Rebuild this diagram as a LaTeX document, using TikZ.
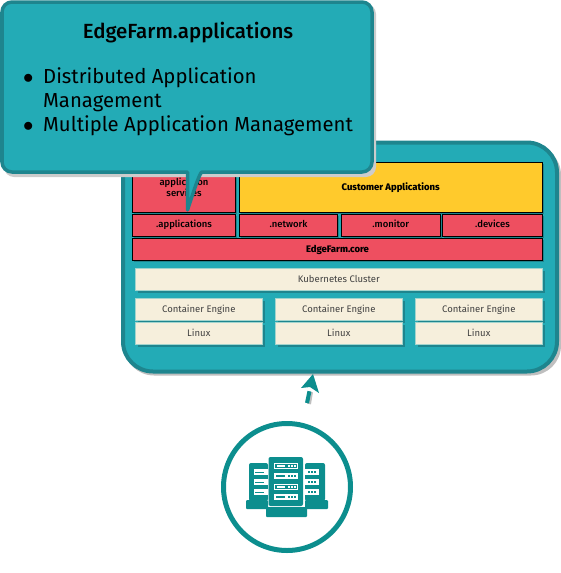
\documentclass[tikz,border=0pt]{standalone}
\usepackage{fontspec}
\setmainfont{Fira Sans}
\newfontfamily\farmmedium{Fira Sans Medium}
\usetikzlibrary{arrows.meta,shadows}
\definecolor{farmteal}{HTML}{23ABB6}
\definecolor{farmedge}{HTML}{1E858E}
\definecolor{farmred}{HTML}{EE4F60}
\definecolor{farmyellow}{HTML}{FFCA2C}
\definecolor{farmcream}{HTML}{F6EFDC}
\definecolor{farmicon}{HTML}{0C8E8E}
\tikzset{
    smalltext/.style={font=\fontsize{9.5}{11}\selectfont, text height=7pt, text depth=2pt},
    redbox/.style={draw=black, line width=1pt, fill=farmred, smalltext, font=\fontsize{9.5}{11}\selectfont\farmmedium, text=black, inner sep=0pt,
        drop shadow={shadow xshift=1.5pt, shadow yshift=-1.5pt, fill=farmedge, opacity=1}},
    yellowbox/.style={redbox, fill=farmyellow},
    creambox/.style={draw=farmcream!60!farmteal, line width=0.6pt, fill=farmcream, smalltext, text=black!75, inner sep=0pt,
        drop shadow={shadow xshift=2.2pt, shadow yshift=-2.2pt, fill=farmedge, opacity=1}},
    iconpart/.style={fill=farmicon, draw=none},
    iconbar/.style={fill=white, draw=none},
    icondots/.style={farmicon, line width=2pt, dash pattern=on 2pt off 1pt},
    whitedots/.style={white, line width=1.5pt, dash pattern=on 2pt off 1pt},
}
\begin{document}
\begin{tikzpicture}[x=1pt, y=-1pt]
    \useasboundingbox (0,0) rectangle (561,573);
    % platform
    \fill[black!25, rounded corners=30pt] (124,145) rectangle (561,375.5);
    \draw[farmedge, fill=farmteal, line width=4pt, rounded corners=30pt] (123,142.5) rectangle (557,371.5);
    \node[yellowbox, minimum width=303pt, minimum height=49.5pt] (customer) at (390.7,187.5) {\bfseries Customer Applications};
    \node[redbox, minimum width=102.5pt, minimum height=49.5pt, text height=, text depth=, align=center] (services) at (184,187.5) {application\\services};
    \node[redbox, minimum width=102.5pt, minimum height=21.7pt] (apps) at (184,225.3) {.applications};
    \node[redbox, minimum width=98.7pt, minimum height=21.7pt] (network) at (288.5,225.3) {.network};
    \node[redbox, minimum width=99.3pt, minimum height=21.7pt] (monitor) at (390.8,225.3) {.monitor};
    \node[redbox, minimum width=99.3pt, minimum height=21.7pt] (devices) at (492.5,225.3) {.devices};
    \node[redbox, minimum width=409.4pt, minimum height=21.4pt] (core) at (337.5,249.5) {\bfseries EdgeFarm.core};
    \node[creambox, minimum width=407pt, minimum height=21.7pt] (cluster) at (338.8,279.5) {Kubernetes Cluster};
    \node[creambox, minimum width=127pt, minimum height=21.7pt] (engineA) at (198.8,309.5) {Container Engine};
    \node[creambox, minimum width=127pt, minimum height=21.7pt] (engineB) at (338.8,309.5) {Container Engine};
    \node[creambox, minimum width=127pt, minimum height=21.7pt] (engineC) at (478.8,309.5) {Container Engine};
    \node[creambox, minimum width=127pt, minimum height=21.7pt] (linuxA) at (198.8,333.5) {Linux};
    \node[creambox, minimum width=127pt, minimum height=21.7pt] (linuxB) at (338.8,333.5) {Linux};
    \node[creambox, minimum width=127pt, minimum height=21.7pt] (linuxC) at (478.8,333.5) {Linux};
    % callout
    \fill[black!20, rounded corners=10pt] (4,4) rectangle (376,177);
    \draw[farmedge, fill=farmteal, line width=3.5pt, line join=round]
        [rounded corners=10pt] (187.5,172) -- (2,172) -- (2,2) -- (372,2) -- (372,172) -- (212,172)
        [sharp corners] .. controls (200,172) and (194,190) .. (187.5,210) -- cycle;
    \node[font=\fontsize{20.5}{24}\selectfont\farmmedium, text=black] (title) at (188,33) {EdgeFarm.applications};
    \node[anchor=north west, inner sep=0pt, font=\fontsize{20.3}{24}\selectfont, text=black] (points) at (23,66) {%
        \begin{tabular}{@{}p{20pt}@{}l@{}}
        $\bullet$ & Distributed Application\\
         & Management\\
        $\bullet$ & Multiple Application Management
        \end{tabular}};
    % arrow
    \coordinate (arrowstart) at (307,403);
    \coordinate (arrowend) at (313,374);
    \draw[black!25, line width=4pt] (309,404) -- (311,392);
    \draw[farmicon, line width=4pt, dash pattern=on 12pt off 30pt] (arrowstart) -- (arrowend);
    \fill[farmicon] (arrowend) -- (319,393) -- (310,387) -- (301,388) -- cycle;
    % servers
    \draw[farmicon, line width=5pt] (287,487) coordinate (hub) circle (63.5);
    \fill[iconpart, rounded corners=2pt] (249,463) rectangle (268,501);
    \fill[iconpart, rounded corners=2pt] (305,463) rectangle (325,501);
    \fill[iconpart, rounded corners=1pt] (246,500) rectangle (268,509);
    \fill[iconpart, rounded corners=1pt] (305,500) rectangle (328,509);
    \fill[iconbar] (254,469) rectangle (268,475);
    \fill[iconbar] (254,479) rectangle (268,485);
    \fill[iconbar] (254,489) rectangle (268,495);
    \fill[iconbar] (305,469) rectangle (319,475);
    \fill[iconbar] (305,479) rectangle (319,485);
    \fill[iconbar] (305,489) rectangle (319,495);
    \fill[iconpart] (255,471.5) rectangle (264,472.5);
    \fill[iconpart] (255,481.5) rectangle (264,482.5);
    \fill[iconpart] (255,491.5) rectangle (264,492.5);
    \draw[icondots] (308,472) -- (317,472);
    \draw[icondots] (308,482) -- (317,482);
    \draw[icondots] (308,492) -- (317,492);
    \fill[iconpart, rounded corners=2pt] (268.5,457) rectangle (303,506);
    \fill[iconpart, rounded corners=1pt] (266,507) rectangle (307,517);
    \fill[iconbar] (274,463) rectangle (298,469);
    \fill[iconbar] (274,473) rectangle (298,479);
    \fill[iconbar] (274,484) rectangle (298,490);
    \fill[iconbar] (274,494) rectangle (298,500);
    \fill[iconpart] (275,464) rectangle (297,468);
    \fill[iconpart] (275,485) rectangle (297,489);
    \fill[iconbar] (276.5,465) rectangle (285,467);
    \fill[iconbar] (276.5,486) rectangle (285,488);
    \draw[whitedots] (288,466) -- (296,466);
    \draw[whitedots] (288,487) -- (296,487);
    \fill[iconpart] (276,475) rectangle (285,477);
    \fill[iconpart] (276,496) rectangle (285,498);
    \draw[icondots] (288,476) -- (296,476);
    \draw[icondots] (288,497) -- (296,497);
\end{tikzpicture}
\end{document}
